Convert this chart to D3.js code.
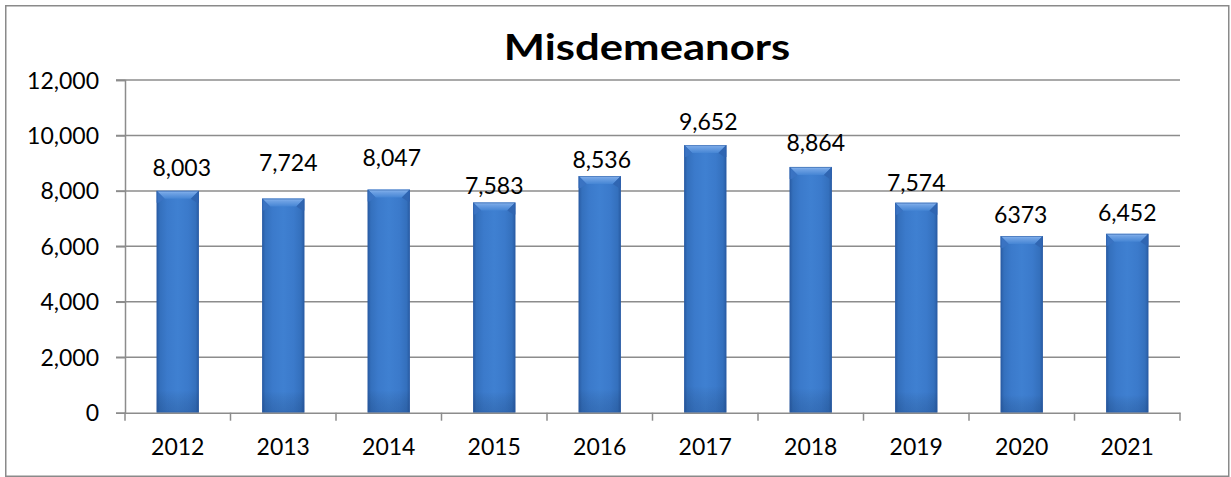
<!DOCTYPE html>
<html>
<head>
<meta charset="utf-8">
<script src="https://cdn.jsdelivr.net/npm/d3@7"></script>
<style>
  html, body { margin: 0; padding: 0; background: #fff; }
  svg { display: block; }
  text { font-family: Lato, "Open Sans", sans-serif; fill: #000; }
</style>
</head>
<body>
<svg id="chart" width="1231" height="477"></svg>
<script>
// ---- data ----
const years = ["2012","2013","2014","2015","2016","2017","2018","2019","2020","2021"];
const values = [8003, 7724, 8047, 7583, 8536, 9652, 8864, 7574, 6373, 6452];
const valueLabels = ["8,003","7,724","8,047","7,583","8,536","9,652","8,864","7,574","6373","6,452"];
const yTicks = [0, 2000, 4000, 6000, 8000, 10000, 12000];
const title = "Misdemeanors";
// ---- label placement (layout, px) ----
const labelDx = [4, 5, 3, 0, 2, 3, 5, 0, -1, 0];
const labelGap = [15, 28, 24, 8, 8, 15, 16, 12, 13, 13];

const svg = d3.select("#chart");
const W = 1231, H = 477;
const m = { left: 125, right: 1180, top: 80, bottom: 412.7 };
const FS = 23;

svg.append("rect").attr("x", 0).attr("y", 0).attr("width", W).attr("height", H).attr("fill", "#fff");
svg.append("rect").attr("x", 5.75).attr("y", 5.75).attr("width", 1223).attr("height", 470.5)
  .attr("fill", "none").attr("stroke", "#8a8a8a").attr("stroke-width", 1.5);

const x = d3.scaleBand().domain(years).range([m.left, m.right]).paddingInner(0.6).paddingOuter(0.3);
const y = d3.scaleLinear().domain([0, 12000]).range([m.bottom, m.top]);

const gridColor = "#8c8c8c";

// gridlines
svg.append("g").selectAll("line").data(yTicks.filter(d => d > 0)).join("line")
  .attr("x1", m.left - 9).attr("x2", m.right)
  .attr("y1", d => y(d)).attr("y2", d => y(d))
  .attr("stroke", gridColor).attr("stroke-width", 1.5);

// y axis
const yAxis = svg.append("g").attr("transform", `translate(${m.left},0)`)
  .call(d3.axisLeft(y).tickValues(yTicks).tickFormat(d3.format(",")).tickSize(9).tickPadding(17));
yAxis.select(".domain").attr("stroke", gridColor).attr("stroke-width", 1.5);
yAxis.selectAll(".tick line").attr("stroke", gridColor).attr("stroke-width", 1.5);
yAxis.selectAll(".tick text").attr("font-size", FS).attr("font-family", "Lato, 'Open Sans', sans-serif").attr("fill", "#000").attr("dy", "0.35em");

// defs for bar gradients
const defs = svg.append("defs");
const hg = defs.append("linearGradient").attr("id", "barH").attr("x1", 0).attr("x2", 1).attr("y1", 0).attr("y2", 0);
[[0, "#2a5ca3"], [0.08, "#3470bd"], [0.25, "#3b7acb"], [0.5, "#3f80d1"], [0.75, "#3b7acb"], [0.92, "#3470bd"], [1, "#2a5ca3"]]
  .forEach(([o, c]) => hg.append("stop").attr("offset", o).attr("stop-color", c));
const vg = defs.append("linearGradient").attr("id", "barV").attr("x1", 0).attr("x2", 0).attr("y1", 0).attr("y2", 1);
[[0, "#000", 0], [0.9, "#000", 0], [1, "#0a2550", 0.18]]
  .forEach(([o, c, a]) => vg.append("stop").attr("offset", o).attr("stop-color", c).attr("stop-opacity", a));
const tg = defs.append("linearGradient").attr("id", "barTop").attr("x1", 0).attr("x2", 0).attr("y1", 0).attr("y2", 1);
[[0, "#8fbaf0"], [0.3, "#6fa2e4"], [1, "#4585d4"]]
  .forEach(([o, c]) => tg.append("stop").attr("offset", o).attr("stop-color", c));

const bev = 8;
const bars = svg.append("g").selectAll("g").data(years.map((k, i) => ({ k, v: values[i], i }))).join("g");
bars.append("rect")
  .attr("x", d => x(d.k)).attr("y", d => y(d.v))
  .attr("width", x.bandwidth()).attr("height", d => y(0) - y(d.v))
  .attr("fill", "url(#barH)");
bars.append("rect")
  .attr("x", d => x(d.k)).attr("y", d => y(d.v))
  .attr("width", x.bandwidth()).attr("height", d => y(0) - y(d.v))
  .attr("fill", "url(#barV)");
// top bevel
bars.append("path").attr("d", d => {
  const x0 = x(d.k), x1 = x0 + x.bandwidth(), t = y(d.v);
  return `M${x0},${t}L${x1},${t}L${x1 - bev},${t + bev}L${x0 + bev},${t + bev}Z`;
}).attr("fill", "url(#barTop)");
// left/right bevel facets
bars.append("path").attr("d", d => {
  const x0 = x(d.k), t = y(d.v);
  return `M${x0},${t}L${x0 + bev},${t + bev}L${x0 + 2},${t + bev + 4}L${x0},${t + bev + 4}Z`;
}).attr("fill", "#3a73c2");
bars.append("path").attr("d", d => {
  const x1 = x(d.k) + x.bandwidth(), t = y(d.v);
  return `M${x1},${t}L${x1 - bev},${t + bev}L${x1 - 2},${t + bev + 4}L${x1},${t + bev + 4}Z`;
}).attr("fill", "#3066b2");
// outline
bars.append("rect")
  .attr("x", d => x(d.k) + 0.5).attr("y", d => y(d.v) + 0.5)
  .attr("width", x.bandwidth() - 1).attr("height", d => y(0) - y(d.v) - 1)
  .attr("fill", "none").attr("stroke", "#2b5ea6").attr("stroke-opacity", 0.6).attr("stroke-width", 1);

// x axis
const xAxis = svg.append("g").attr("transform", `translate(0,${m.bottom})`)
  .call(d3.axisBottom(x).tickSize(0).tickPadding(26));
xAxis.select(".domain").attr("stroke", gridColor).attr("stroke-width", 1.5);
xAxis.selectAll(".tick text").attr("font-size", FS).attr("font-family", "Lato, 'Open Sans', sans-serif").attr("fill", "#000");
// category boundary ticks
const bounds = years.map(k => x(k) - x.step() * x.paddingOuter()).concat([m.right]);
svg.append("g").selectAll("line").data(bounds).join("line")
  .attr("x1", d => d).attr("x2", d => d).attr("y1", m.bottom).attr("y2", m.bottom + 8)
  .attr("stroke", gridColor).attr("stroke-width", 1.5);

// value labels
svg.append("g").selectAll("text").data(years.map((k, i) => ({ k, v: values[i], i }))).join("text")
  .attr("x", d => x(d.k) + x.bandwidth() / 2 + labelDx[d.i])
  .attr("y", d => y(d.v) - labelGap[d.i])
  .attr("text-anchor", "middle").attr("font-size", FS)
  .text(d => valueLabels[d.i]);

// title (horizontally widened to match the reference's proportions)
svg.append("text").attr("transform", "translate(647,59.5) scale(1.18,1)").attr("text-anchor", "middle")
  .attr("font-size", 37).attr("font-weight", 700).text(title);
</script>
</body>
</html>
